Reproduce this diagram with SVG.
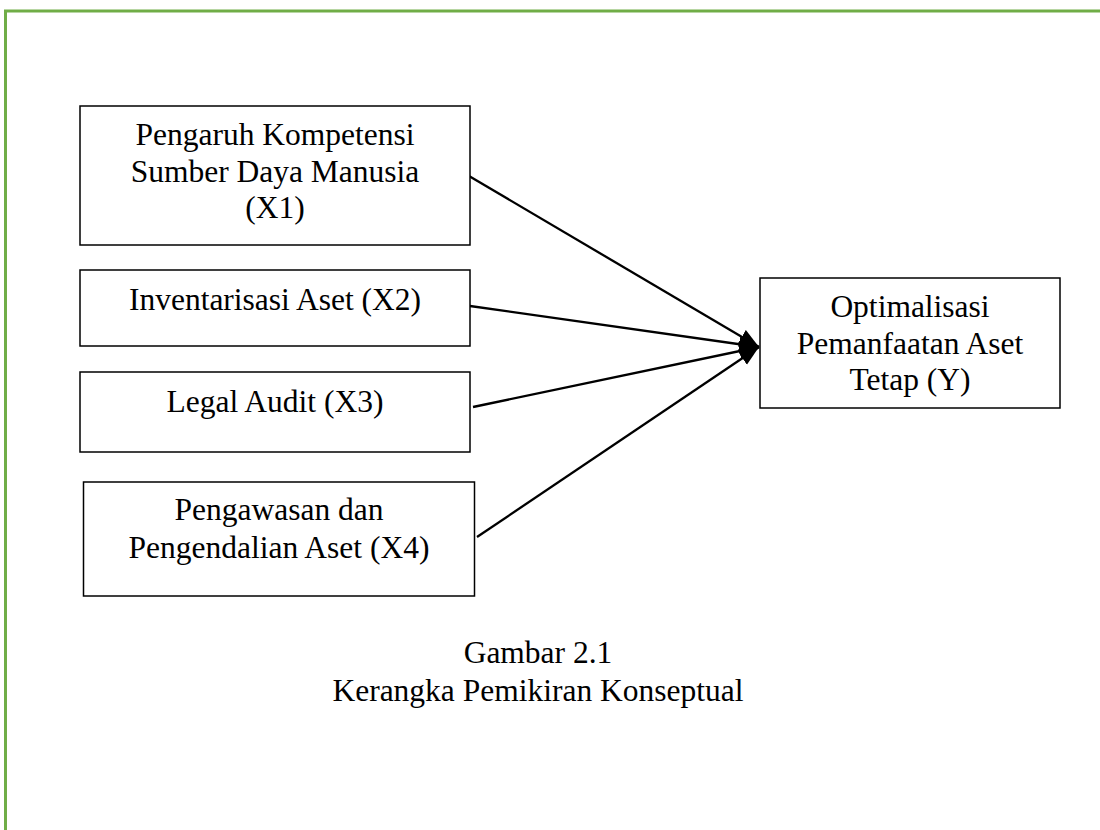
<svg xmlns="http://www.w3.org/2000/svg" width="1100" height="830" viewBox="0 0 1100 830">
  <style>
    .box { fill: #ffffff; stroke: #000000; stroke-width: 1.5; }
    .lbl { font-family: "Liberation Serif", "Times New Roman", serif; font-size: 31.5px; fill: #000000; text-anchor: middle; }
    .edge { stroke: #000000; stroke-width: 2.3; fill: none; marker-end: url(#arrow); }
    .frame { stroke: #70ad47; stroke-width: 3; fill: none; }
  </style>
  <defs>
    <marker id="arrow" markerUnits="userSpaceOnUse" markerWidth="22" markerHeight="18" refX="20" refY="8" orient="auto">
      <path d="M0,0 L20,8 L0,16 Z" fill="#000000"/>
    </marker>
  </defs>
  <rect width="1100" height="830" fill="#ffffff"/>
  <g id="frame">
    <path class="frame" d="M5.5,830 L5.5,11 L1100,11"/>
  </g>
  <g id="connectors">
    <line class="edge" x1="469" y1="176" x2="759" y2="347"/>
    <line class="edge" x1="470" y1="306" x2="759" y2="347"/>
    <line class="edge" x1="473" y1="407" x2="759" y2="347"/>
    <line class="edge" x1="477" y1="537" x2="759" y2="347"/>
  </g>
  <g id="x1">
    <rect class="box" x="80" y="106" width="390" height="139"/>
    <text class="lbl" x="275" y="145">Pengaruh Kompetensi</text>
    <text class="lbl" x="275" y="182">Sumber Daya Manusia</text>
    <text class="lbl" x="275" y="218">(X1)</text>
  </g>
  <g id="x2">
    <rect class="box" x="80" y="270" width="390" height="76"/>
    <text class="lbl" x="275" y="310">Inventarisasi Aset (X2)</text>
  </g>
  <g id="x3">
    <rect class="box" x="80" y="372" width="390" height="80"/>
    <text class="lbl" x="275" y="412">Legal Audit (X3)</text>
  </g>
  <g id="x4">
    <rect class="box" x="83.5" y="482" width="391" height="114"/>
    <text class="lbl" x="279" y="520">Pengawasan dan</text>
    <text class="lbl" x="279" y="558">Pengendalian Aset (X4)</text>
  </g>
  <g id="y">
    <rect class="box" x="760" y="278" width="300" height="130"/>
    <text class="lbl" x="910" y="317">Optimalisasi</text>
    <text class="lbl" x="910" y="354">Pemanfaatan Aset</text>
    <text class="lbl" x="910" y="390">Tetap (Y)</text>
  </g>
  <g id="caption">
    <text class="lbl" x="538" y="663">Gambar 2.1</text>
    <text class="lbl" x="538" y="701">Kerangka Pemikiran Konseptual</text>
  </g>
</svg>
